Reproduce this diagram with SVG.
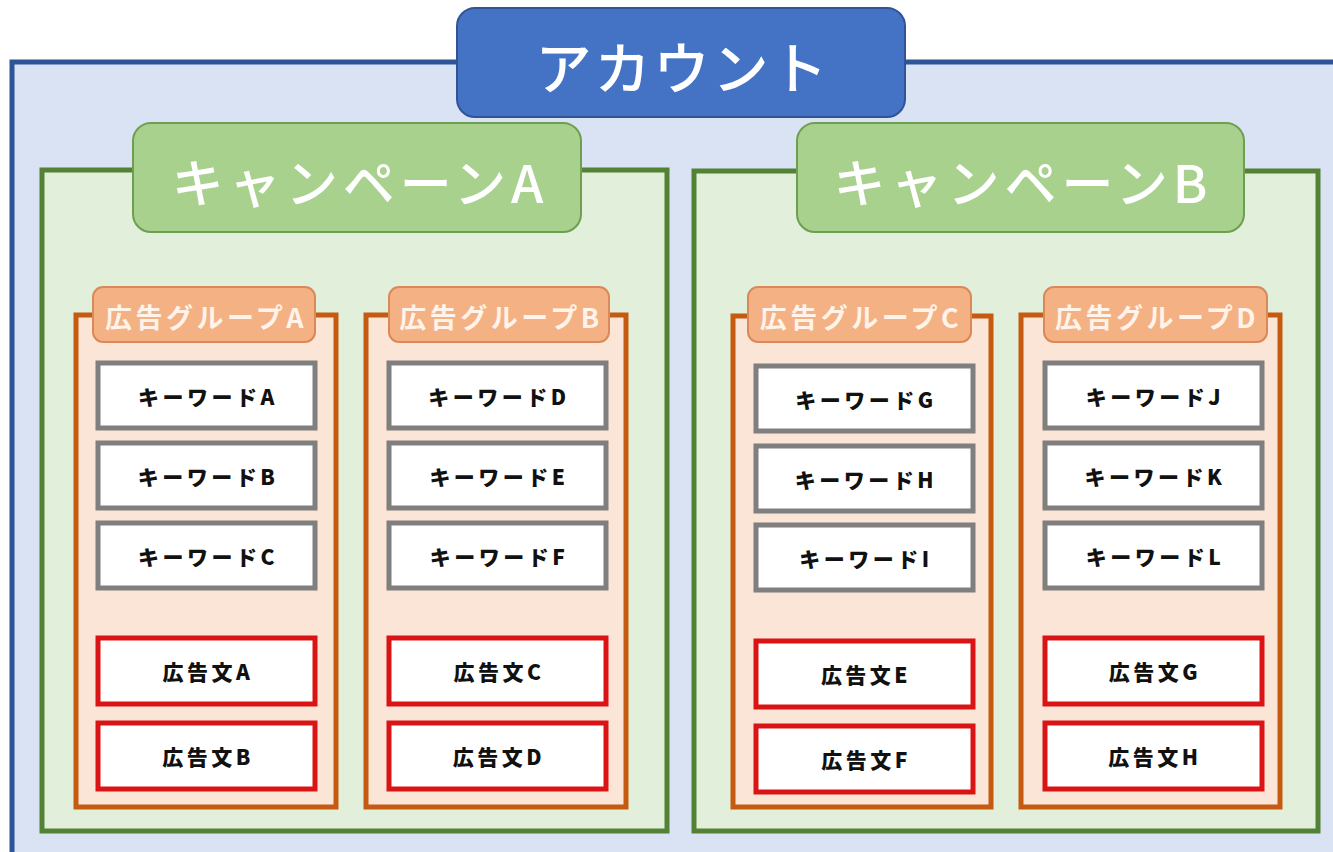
<svg xmlns="http://www.w3.org/2000/svg" width="1333" height="852" viewBox="0 0 1333 852">
<style>
text{font-family:"Noto Sans CJK JP","Noto Sans",sans-serif;text-anchor:middle;dominant-baseline:central}
.acc{fill:#DAE3F3;stroke:#2F5597;stroke-width:5}
.accl{fill:#4472C4;stroke:#2F5597;stroke-width:2}
.acct{fill:#fff;font-size:56px;font-weight:500;letter-spacing:3px}
.cmp{fill:#E2EFDA;stroke:#548235;stroke-width:5}
.cmpl{fill:#A9D18E;stroke:#6E9E50;stroke-width:2}
.cmpt{fill:#fff;font-size:52px;font-weight:500;letter-spacing:5px}
.grp{fill:#FBE5D6;stroke:#C55A11;stroke-width:5}
.grpl{fill:#F4B183;stroke:#D9895A;stroke-width:2}
.grpt{fill:#FFF3EA;font-size:27px;font-weight:700;letter-spacing:3.5px}
.kw{fill:#fff;stroke:#7F7F7F;stroke-width:5}
.ad{fill:#fff;stroke:#DA1414;stroke-width:5}
.bt{fill:#111;font-size:21px;font-weight:900;letter-spacing:3.5px}
</style>
<rect x="0" y="0" width="1333" height="852" fill="#fff"/>
<g id="account">
<rect class="acc" x="12" y="62" width="1340" height="820"/>
<rect class="accl" x="457" y="8" width="448" height="109" rx="18"/>
<text class="acct" x="683" y="64">アカウント</text>
</g>
<g id="campaignA">
<rect class="cmp" x="42" y="170" width="625" height="661"/>
<rect class="cmpl" x="133" y="123" width="448" height="109" rx="18"/>
<text class="cmpt" x="360" y="180">キャンペーンA</text>
</g>
<g id="campaignB">
<rect class="cmp" x="694" y="171" width="624" height="660"/>
<rect class="cmpl" x="797" y="123" width="447" height="109" rx="18"/>
<text class="cmpt" x="1023" y="180">キャンペーンB</text>
</g>
<g id="adgroupA">
<rect class="grp" x="76" y="315" width="260" height="492"/>
<rect class="grpl" x="93" y="287" width="222" height="55" rx="10"/>
<text class="grpt" x="206" y="316">広告グループA</text>
</g>
<g id="adgroupB">
<rect class="grp" x="366" y="315" width="260" height="492"/>
<rect class="grpl" x="389" y="287" width="220" height="55" rx="10"/>
<text class="grpt" x="501" y="316">広告グループB</text>
</g>
<g id="adgroupC">
<rect class="grp" x="733" y="316" width="258" height="491"/>
<rect class="grpl" x="748" y="287" width="223" height="55" rx="10"/>
<text class="grpt" x="861" y="316">広告グループC</text>
</g>
<g id="adgroupD">
<rect class="grp" x="1021" y="315" width="259" height="492"/>
<rect class="grpl" x="1044" y="287" width="223" height="55" rx="10"/>
<text class="grpt" x="1157" y="316">広告グループD</text>
</g>
<g id="kwA"><rect class="kw" x="98" y="363" width="217" height="65"/><text class="bt" x="208" y="396">キーワードA</text></g>
<g id="kwB"><rect class="kw" x="98" y="443" width="217" height="65"/><text class="bt" x="208" y="476">キーワードB</text></g>
<g id="kwC"><rect class="kw" x="98" y="523" width="217" height="65"/><text class="bt" x="208" y="556">キーワードC</text></g>
<g id="kwD"><rect class="kw" x="389" y="363" width="217" height="65"/><text class="bt" x="499" y="396">キーワードD</text></g>
<g id="kwE"><rect class="kw" x="389" y="443" width="217" height="65"/><text class="bt" x="499" y="476">キーワードE</text></g>
<g id="kwF"><rect class="kw" x="389" y="523" width="217" height="65"/><text class="bt" x="499" y="556">キーワードF</text></g>
<g id="kwG"><rect class="kw" x="756" y="366" width="217" height="65"/><text class="bt" x="866" y="399">キーワードG</text></g>
<g id="kwH"><rect class="kw" x="756" y="446" width="217" height="65"/><text class="bt" x="866" y="479">キーワードH</text></g>
<g id="kwI"><rect class="kw" x="756" y="525" width="217" height="65"/><text class="bt" x="866" y="558">キーワードI</text></g>
<g id="kwJ"><rect class="kw" x="1045" y="363" width="217" height="65"/><text class="bt" x="1155" y="396">キーワードJ</text></g>
<g id="kwK"><rect class="kw" x="1045" y="443" width="217" height="65"/><text class="bt" x="1155" y="476">キーワードK</text></g>
<g id="kwL"><rect class="kw" x="1045" y="523" width="217" height="65"/><text class="bt" x="1155" y="556">キーワードL</text></g>
<g id="adA"><rect class="ad" x="98" y="638" width="217" height="66"/><text class="bt" x="208" y="671">広告文A</text></g>
<g id="adB"><rect class="ad" x="98" y="723" width="217" height="66"/><text class="bt" x="208" y="756">広告文B</text></g>
<g id="adC"><rect class="ad" x="389" y="638" width="217" height="66"/><text class="bt" x="499" y="671">広告文C</text></g>
<g id="adD"><rect class="ad" x="389" y="723" width="217" height="66"/><text class="bt" x="499" y="756">広告文D</text></g>
<g id="adE"><rect class="ad" x="756" y="641" width="217" height="66"/><text class="bt" x="866" y="674">広告文E</text></g>
<g id="adF"><rect class="ad" x="756" y="726" width="217" height="66"/><text class="bt" x="866" y="759">広告文F</text></g>
<g id="adG"><rect class="ad" x="1045" y="638" width="217" height="66"/><text class="bt" x="1155" y="671">広告文G</text></g>
<g id="adH"><rect class="ad" x="1045" y="723" width="217" height="66"/><text class="bt" x="1155" y="756">広告文H</text></g>
<g id="connectors"></g>
</svg>
